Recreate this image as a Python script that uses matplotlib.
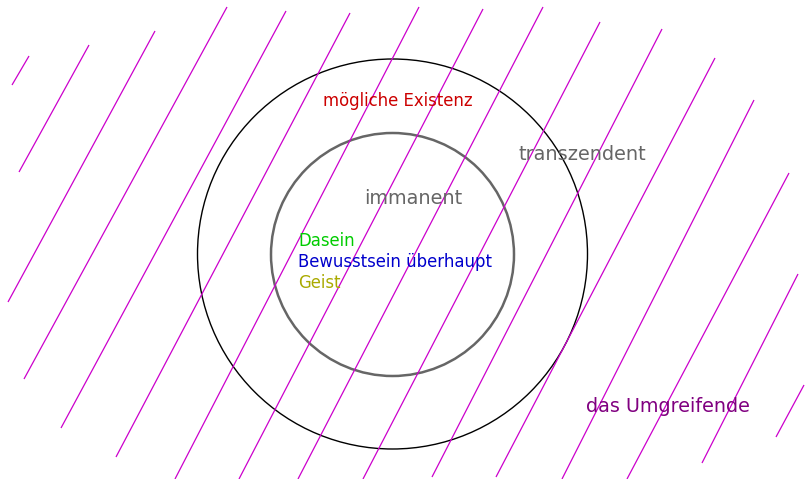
import matplotlib
matplotlib.use("Agg")
import matplotlib.pyplot as plt
from matplotlib.patches import Circle

# Hatch line endpoints (x0, y0, x1, y1) in image pixel coordinates
hatch_x0 = [12, 19, 8, 24, 61, 116, 175, 239, 298, 363, 432, 496, 562, 627, 702, 776]
hatch_y0 = [85, 172, 302, 379, 428, 457, 479, 479, 479, 479, 477, 477, 479, 479, 463, 437]
hatch_x1 = [29, 89, 155, 227, 286, 350, 419, 483, 543, 600, 662, 715, 754, 789, 798, 804]
hatch_y1 = [56, 45, 31, 7, 11, 13, 7, 9, 7, 22, 29, 58, 100, 173, 274, 385]

# Circles: centre and radius
circle_cx = [392.5, 392.5]
circle_cy = [254, 254.5]
circle_r = [195, 121.5]
circle_colors = ["#000000", "#666666"]
circle_lw = [1.0, 1.8]

# Labels
labels = ["mögliche Existenz", "transzendent", "immanent", "Dasein",
          "Bewusstsein überhaupt", "Geist", "das Umgreifende"]
label_x = [397.5, 582, 413.5, 298, 298, 298, 667.5]
label_y = [101, 155, 198, 241, 262, 283, 407]
label_ha = ["center", "center", "center", "left", "left", "left", "center"]
label_colors = ["#cc0000", "#666666", "#666666", "#00cc00", "#0000cc", "#aaaa00", "#800080"]
label_sizes = [11.9, 13.9, 13.9, 11.9, 11.9, 11.9, 13.8]

fig = plt.figure(figsize=(8.05, 4.79), dpi=100)
ax = fig.add_axes([0, 0, 1, 1])
ax.set_xlim(0, 805)
ax.set_ylim(479, 0)
ax.axis("off")

for x0, y0, x1, y1 in zip(hatch_x0, hatch_y0, hatch_x1, hatch_y1):
    ax.plot([x0, x1], [y0, y1], color="#cc00cc", lw=0.9, solid_capstyle="butt")

for cx, cy, r, c, lw in zip(circle_cx, circle_cy, circle_r, circle_colors, circle_lw):
    ax.add_patch(Circle((cx, cy), r, fill=False, edgecolor=c, lw=lw))

for t, x, y, ha, c, s in zip(labels, label_x, label_y, label_ha, label_colors, label_sizes):
    ax.text(x, y, t, ha=ha, va="center", color=c, fontsize=s, family="DejaVu Sans")

fig.savefig("out.png", dpi=100)
